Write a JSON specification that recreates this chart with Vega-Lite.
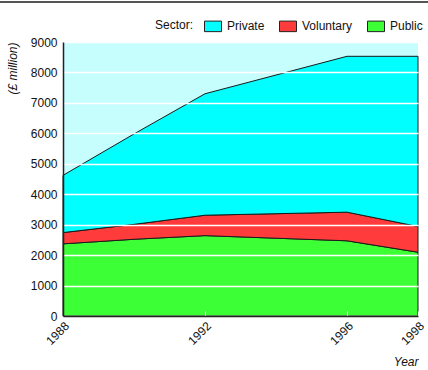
{
  "$schema": "https://vega.github.io/schema/vega-lite/v6.json",
  "autosize": {"type": "none"},
  "width": 355,
  "height": 274,
  "padding": {"left": 63, "top": 42, "right": 10, "bottom": 54},
  "background": "white",
  "config": {
    "font": "Liberation Sans",
    "view": {"fill": "#c6fdfd", "stroke": null},
    "axis": {"labelFont": "Liberation Sans", "titleFont": "Liberation Sans", "labelFontSize": 12, "titleFontSize": 12, "labelColor": "#111", "titleColor": "#111", "titleFontWeight": "normal"},
    "legend": {"labelFont": "Liberation Sans", "titleFont": "Liberation Sans", "labelFontSize": 12, "titleFontSize": 12, "titleFontWeight": "normal", "labelColor": "#111", "titleColor": "#111"}
  },
  "resolve": {"axis": {"x": "independent", "y": "independent"}},
  "layer": [
    {
      "data": {"values": [
        {"Year": 1988, "Sector": "Public", "Value": 2370},
        {"Year": 1990, "Sector": "Public", "Value": 2520},
        {"Year": 1992, "Sector": "Public", "Value": 2640},
        {"Year": 1996, "Sector": "Public", "Value": 2470},
        {"Year": 1998, "Sector": "Public", "Value": 2095},
        {"Year": 1988, "Sector": "Voluntary", "Value": 370},
        {"Year": 1990, "Sector": "Voluntary", "Value": 490},
        {"Year": 1992, "Sector": "Voluntary", "Value": 670},
        {"Year": 1996, "Sector": "Voluntary", "Value": 940},
        {"Year": 1998, "Sector": "Voluntary", "Value": 845},
        {"Year": 1988, "Sector": "Private", "Value": 1880},
        {"Year": 1990, "Sector": "Private", "Value": 2970},
        {"Year": 1992, "Sector": "Private", "Value": 3990},
        {"Year": 1996, "Sector": "Private", "Value": 5120},
        {"Year": 1998, "Sector": "Private", "Value": 5590}
      ]},
      "transform": [{"calculate": "indexof(['Public','Voluntary','Private'], datum.Sector)", "as": "stackOrder"}],
      "mark": {"type": "area", "stroke": "#1a1a1a", "strokeWidth": 1, "opacity": 1},
      "encoding": {
        "x": {"field": "Year", "type": "quantitative",
          "scale": {"domain": [1988, 1998], "nice": false, "zero": false},
          "axis": {"values": [1988, 1992, 1996, 1998], "format": "d", "grid": false, "zindex": 1,
            "labelAngle": -45, "labelAlign": "right", "labelBaseline": "top", "labelPadding": 9,
            "domainColor": "#222", "domainWidth": 1.5,
            "ticks": true, "tickColor": "white", "tickSize": -5, "tickWidth": 1,
            "title": "Year", "titleFontStyle": "italic", "titleAnchor": "end", "titleAlign": "right", "titlePadding": 10}},
        "y": {"field": "Value", "type": "quantitative", "stack": "zero",
          "scale": {"domain": [0, 9000], "nice": false},
          "axis": {"values": [0,1000,2000,3000,4000,5000,6000,7000,8000,9000], "format": "d", "labelOverlap": false, "grid": true, "gridColor": "white", "gridWidth": 1.5, "gridOpacity": 1, "zindex": 1,
            "ticks": false, "labelPadding": 6, "domainColor": "#222", "domainWidth": 1.5,
            "title": "(£ million)", "titleFontStyle": "italic", "titleAnchor": "end", "titleAngle": 270, "titleAlign": "right", "titleBaseline": "bottom", "titleX": -44, "titleY": 0}},
        "color": {"field": "Sector", "type": "nominal",
          "scale": {"domain": ["Private", "Voluntary", "Public"], "range": ["#00ffff", "#ff3b3b", "#3dff35"]},
          "legend": {"title": "Sector:", "orient": "none", "legendX": 92, "legendY": -25, "direction": "horizontal", "titleOrient": "left", "titlePadding": 10,
            "symbolType": "M-1,-0.62H1V0.62H-1Z", "symbolSize": 289, "symbolStrokeColor": "#222", "symbolStrokeWidth": 1, "symbolOpacity": 1,
            "columnPadding": 12, "labelOffset": 5}},
        "order": {"field": "stackOrder", "type": "quantitative"}
      }
    },
    {
      "data": {"values": [{"x": 1986.2, "x2": 1998.3, "y": 10310}]},
      "mark": {"type": "rule", "color": "#555", "strokeWidth": 2, "clip": false},
      "encoding": {
        "x": {"field": "x", "type": "quantitative", "axis": null},
        "x2": {"field": "x2"},
        "y": {"field": "y", "type": "quantitative", "axis": null}
      }
    }
  ]
}
